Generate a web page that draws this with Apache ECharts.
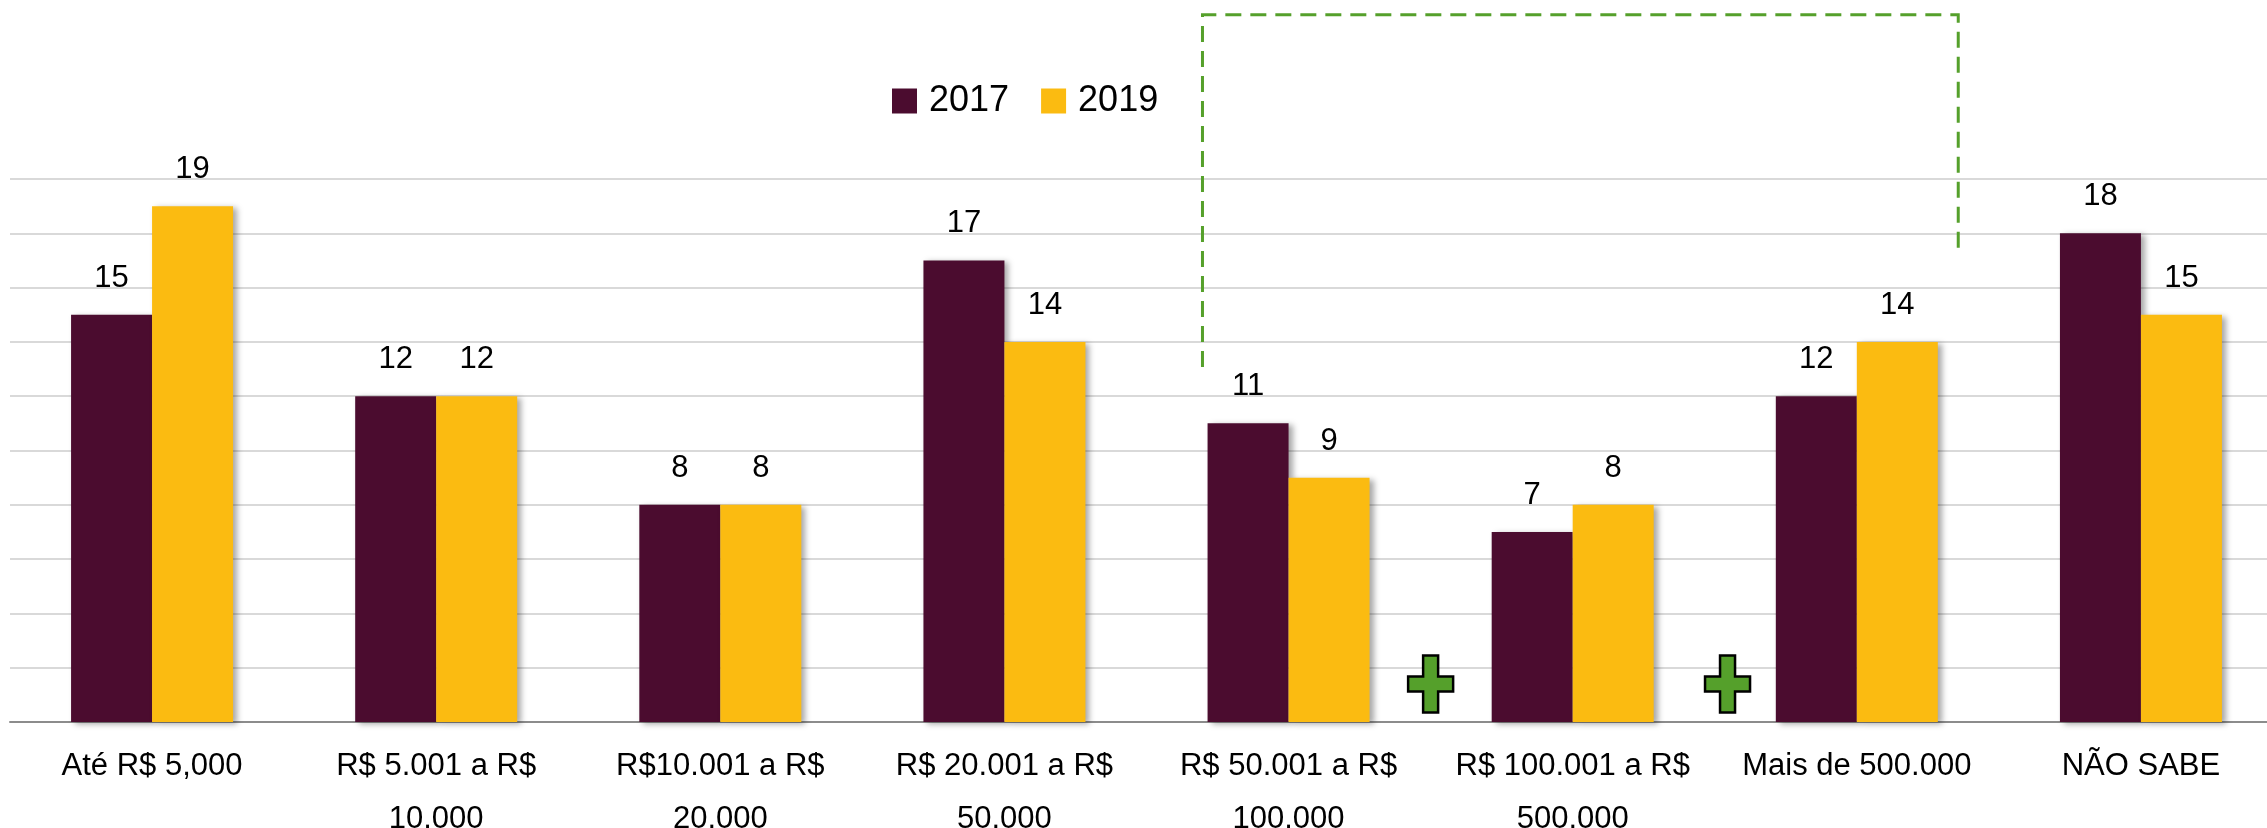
<!DOCTYPE html>
<html>
<head>
<meta charset="utf-8">
<title>Faixas de valor 2017 x 2019</title>
<script src="https://cdn.jsdelivr.net/npm/echarts@6/dist/echarts.min.js"></script>
<style>
  html, body { margin: 0; padding: 0; background: #fff; }
  #main { width: 2267px; height: 828px; }
</style>
</head>
<body>
<div id="main"></div>
<script>
const categories = [
  'Até R$ 5,000',
  'R$ 5.001 a R$\n10.000',
  'R$10.001 a R$\n20.000',
  'R$ 20.001 a R$\n50.000',
  'R$ 50.001 a R$\n100.000',
  'R$ 100.001 a R$\n500.000',
  'Mais de 500.000',
  'NÃO SABE'
];
const seriesNames = ['2017', '2019'];
const values2017 = [15, 12, 8, 17, 11, 7, 12, 18];
const values2019 = [19, 12, 8, 14, 9, 8, 14, 15];

const FONT = '"Liberation Sans", Arial, sans-serif';
const dark = '#4b0c2f';
const yellow = '#fbbb11';
const green = '#55a02b';

const myChart = echarts.init(document.getElementById('main'));

function barSeries(name, data, color) {
  return {
    name: name,
    type: 'bar',
    data: data,
    barWidth: 81,
    barGap: '0%',
    itemStyle: {
      color: color,
      shadowColor: 'rgba(0,0,0,0.35)',
      shadowBlur: 6,
      shadowOffsetX: 4,
      shadowOffsetY: 2
    },
    label: {
      show: true,
      position: 'top',
      distance: 21,
      fontSize: 31,
      fontFamily: FONT,
      color: '#000'
    },
    emphasis: { disabled: true }
  };
}

myChart.setOption({
  animation: false,
  textStyle: { fontFamily: FONT },
  legend: {
    data: seriesNames,
    left: 892,
    top: 83,
    padding: 0,
    itemWidth: 25,
    itemHeight: 25,
    itemGap: 32,
    icon: 'rect',
    textStyle: {
      fontSize: 36,
      fontFamily: FONT,
      color: '#000',
      padding: [0, 0, 0, 7]
    }
  },
  grid: {
    left: 10,
    right: -16,
    top: 179,
    bottom: 106,
    outerBoundsMode: 'none',
    containLabel: false
  },
  xAxis: {
    type: 'category',
    data: categories,
    axisTick: { show: false },
    axisLine: { lineStyle: { color: '#8c8c8c', width: 2 } },
    axisLabel: {
      interval: 0,
      margin: 18,
      fontSize: 31,
      lineHeight: 53,
      color: '#000',
      fontFamily: FONT
    }
  },
  yAxis: {
    type: 'value',
    min: 0,
    max: 20,
    interval: 2,
    axisLabel: { show: false },
    axisLine: { show: false },
    axisTick: { show: false },
    splitLine: { lineStyle: { color: '#d9d9d9', width: 2 } }
  },
  series: [
    barSeries(seriesNames[0], values2017, dark),
    barSeries(seriesNames[1], values2019, yellow)
  ]
});

// annotations: dashed bracket and the two plus signs, placed from the axes
const x0 = myChart.convertToPixel({ xAxisIndex: 0 }, 0);
const band = myChart.convertToPixel({ xAxisIndex: 0 }, 1) - x0;
const xAt = (cat, off) => myChart.convertToPixel({ xAxisIndex: 0 }, cat) + off * band;
const yAt = v => myChart.convertToPixel({ yAxisIndex: 0 }, v);

function plus(cx, cy) {
  const w = 22.5, h = 28.5, t = 7.5;
  return {
    type: 'polygon',
    shape: {
      points: [
        [cx - t, cy - h], [cx + t, cy - h], [cx + t, cy - t], [cx + w, cy - t],
        [cx + w, cy + t], [cx + t, cy + t], [cx + t, cy + h], [cx - t, cy + h],
        [cx - t, cy + t], [cx - w, cy + t], [cx - w, cy - t], [cx - t, cy - t]
      ]
    },
    style: { fill: green, stroke: '#000', lineWidth: 2.5 },
    z: 10
  };
}

const bx1 = xAt(4, -0.303), bx2 = xAt(6, 0.357);
myChart.setOption({
  graphic: [
    {
      type: 'polyline',
      shape: {
        points: [[bx1, yAt(13.08)], [bx1, yAt(26.05)], [bx2, yAt(26.05)], [bx2, yAt(17.2)]]
      },
      style: { stroke: '#55a02b', lineWidth: 3, lineDash: [16, 9], fill: null },
      z: 10
    },
    plus(xAt(4, 0.5), yAt(1.4)),
    plus(xAt(5, 0.545), yAt(1.4))
  ]
});
</script>
</body>
</html>
